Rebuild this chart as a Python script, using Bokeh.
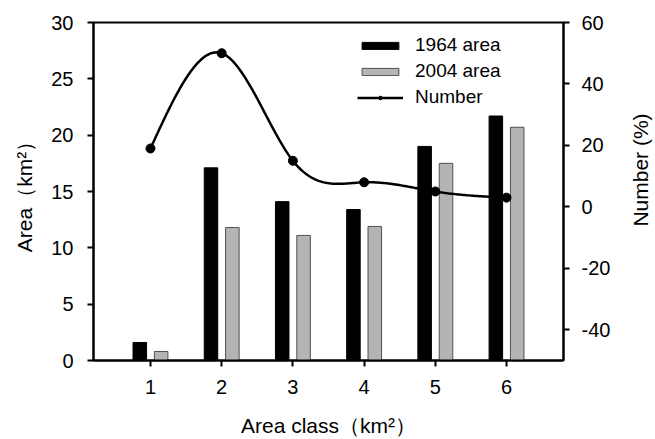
import math
import numpy as np
from bokeh.plotting import figure
from bokeh.layouts import row
from bokeh.models import (Range1d, LinearAxis, FixedTicker, Legend, LegendItem,
                          PrintfTickFormatter, Div)
from bokeh.embed import file_html
from bokeh.resources import INLINE

# ---- data ----
classes = [1, 2, 3, 4, 5, 6]
area_1964 = [1.6, 17.1, 14.1, 13.4, 19.0, 21.7]
area_2004 = [0.8, 11.8, 11.1, 11.9, 17.5, 20.7]
number_pct = [19, 50, 15, 8, 5, 3]
x_ticks = [1, 2, 3, 4, 5, 6]
left_ticks = [0, 5, 10, 15, 20, 25, 30]
right_ticks = [-40, -20, 0, 20, 40, 60]

FONT = "Liberation Sans"


def natural_spline(x, y, n=200):
    x = np.asarray(x, float)
    y = np.asarray(y, float)
    k = len(x)
    h = np.diff(x)
    A = np.zeros((k, k))
    b = np.zeros(k)
    A[0, 0] = 1
    A[-1, -1] = 1
    for i in range(1, k - 1):
        A[i, i - 1] = h[i - 1]
        A[i, i] = 2 * (h[i - 1] + h[i])
        A[i, i + 1] = h[i]
        b[i] = 6 * ((y[i + 1] - y[i]) / h[i] - (y[i] - y[i - 1]) / h[i - 1])
    M = np.linalg.solve(A, b)
    xs = np.linspace(x[0], x[-1], n)
    ys = np.empty_like(xs)
    for j, t in enumerate(xs):
        i = min(np.searchsorted(x, t, side="right") - 1, k - 2)
        a = x[i + 1] - t
        c = t - x[i]
        ys[j] = (M[i] * a ** 3 + M[i + 1] * c ** 3) / (6 * h[i]) \
            + (y[i] / h[i] - M[i] * h[i] / 6) * a \
            + (y[i + 1] / h[i] - M[i + 1] * h[i] / 6) * c
    return xs, ys


p = figure(width=625, height=439, output_backend="svg", toolbar_location=None,
           x_range=Range1d(0.2, 6.8), y_range=Range1d(0, 30),
           min_border_left=93, min_border_right=62, min_border_top=22, min_border_bottom=78)
p.extra_y_ranges = {"num": Range1d(-50, 60)}
p.xgrid.visible = False
p.ygrid.visible = False
p.outline_line_color = "black"
p.outline_line_width = 2
p.background_fill_color = "white"
p.border_fill_color = "white"

r1 = p.vbar(x=[c - 0.15 for c in classes], top=area_1964, width=0.19, bottom=0,
            fill_color="black", line_color="black", line_width=1)
r2 = p.vbar(x=[c + 0.15 for c in classes], top=area_2004, width=0.19, bottom=0,
            fill_color="#b4b4b4", line_color="#505050", line_width=1)

xs, ys = natural_spline(classes, number_pct)
r3 = p.line(xs, ys, line_color="black", line_width=2.5, y_range_name="num")
r4 = p.scatter(classes, number_pct, size=9, fill_color="black", line_color="black",
               y_range_name="num")

right = LinearAxis(y_range_name="num")
p.add_layout(right, "right")

for ax in [p.xaxis[0], p.yaxis[0], right]:
    ax.axis_line_width = 2
    ax.major_tick_line_width = 2
    ax.major_tick_out = 6
    ax.major_tick_in = 0
    ax.minor_tick_line_color = None
    ax.major_label_text_font = FONT
    ax.major_label_text_font_size = "20px"
    ax.major_label_text_color = "black"
    ax.axis_label_text_font = FONT
    ax.axis_label_text_font_size = "21px"
    ax.axis_label_text_font_style = "normal"
    ax.axis_label_text_color = "black"

p.xaxis[0].ticker = FixedTicker(ticks=x_ticks)
p.yaxis[0].ticker = FixedTicker(ticks=left_ticks)
right.ticker = FixedTicker(ticks=right_ticks)
right.formatter = PrintfTickFormatter(format="%d")
p.xaxis[0].axis_label = "Area class（km²）"
p.yaxis[0].axis_label = "Area（km²）"
p.yaxis[0].axis_label_standoff = 12
p.yaxis[0].major_label_standoff = 14
right.major_label_standoff = 12
p.xaxis[0].major_label_standoff = 13
p.xaxis[0].axis_label_standoff = 17

legend = Legend(items=[
    LegendItem(label="1964 area", renderers=[r1]),
    LegendItem(label="2004 area", renderers=[r2]),
    LegendItem(label="Number", renderers=[r3, r4]),
], location=(264, 252), padding=0, margin=0, spacing=4,
    glyph_width=46, glyph_height=9, label_standoff=12,
    label_text_font=FONT, label_text_font_size="19px", label_text_color="black",
    border_line_color=None, background_fill_alpha=0)
p.add_layout(legend)

# right-hand axis title, reading bottom to top
right_title = Div(
    text='<span style="position:absolute; left:11px; top:165px; '
         'transform: translate(-50%, -50%) rotate(-90deg); white-space: nowrap; '
         'font-family: \'Liberation Sans\'; font-size: 21px; color: black;">Number (%)</span>',
    width=30, height=439,
    styles={"position": "relative", "overflow": "visible", "background": "white"})

layout = row(p, right_title, spacing=0)

open("out.html", "w").write(file_html(layout, INLINE))
